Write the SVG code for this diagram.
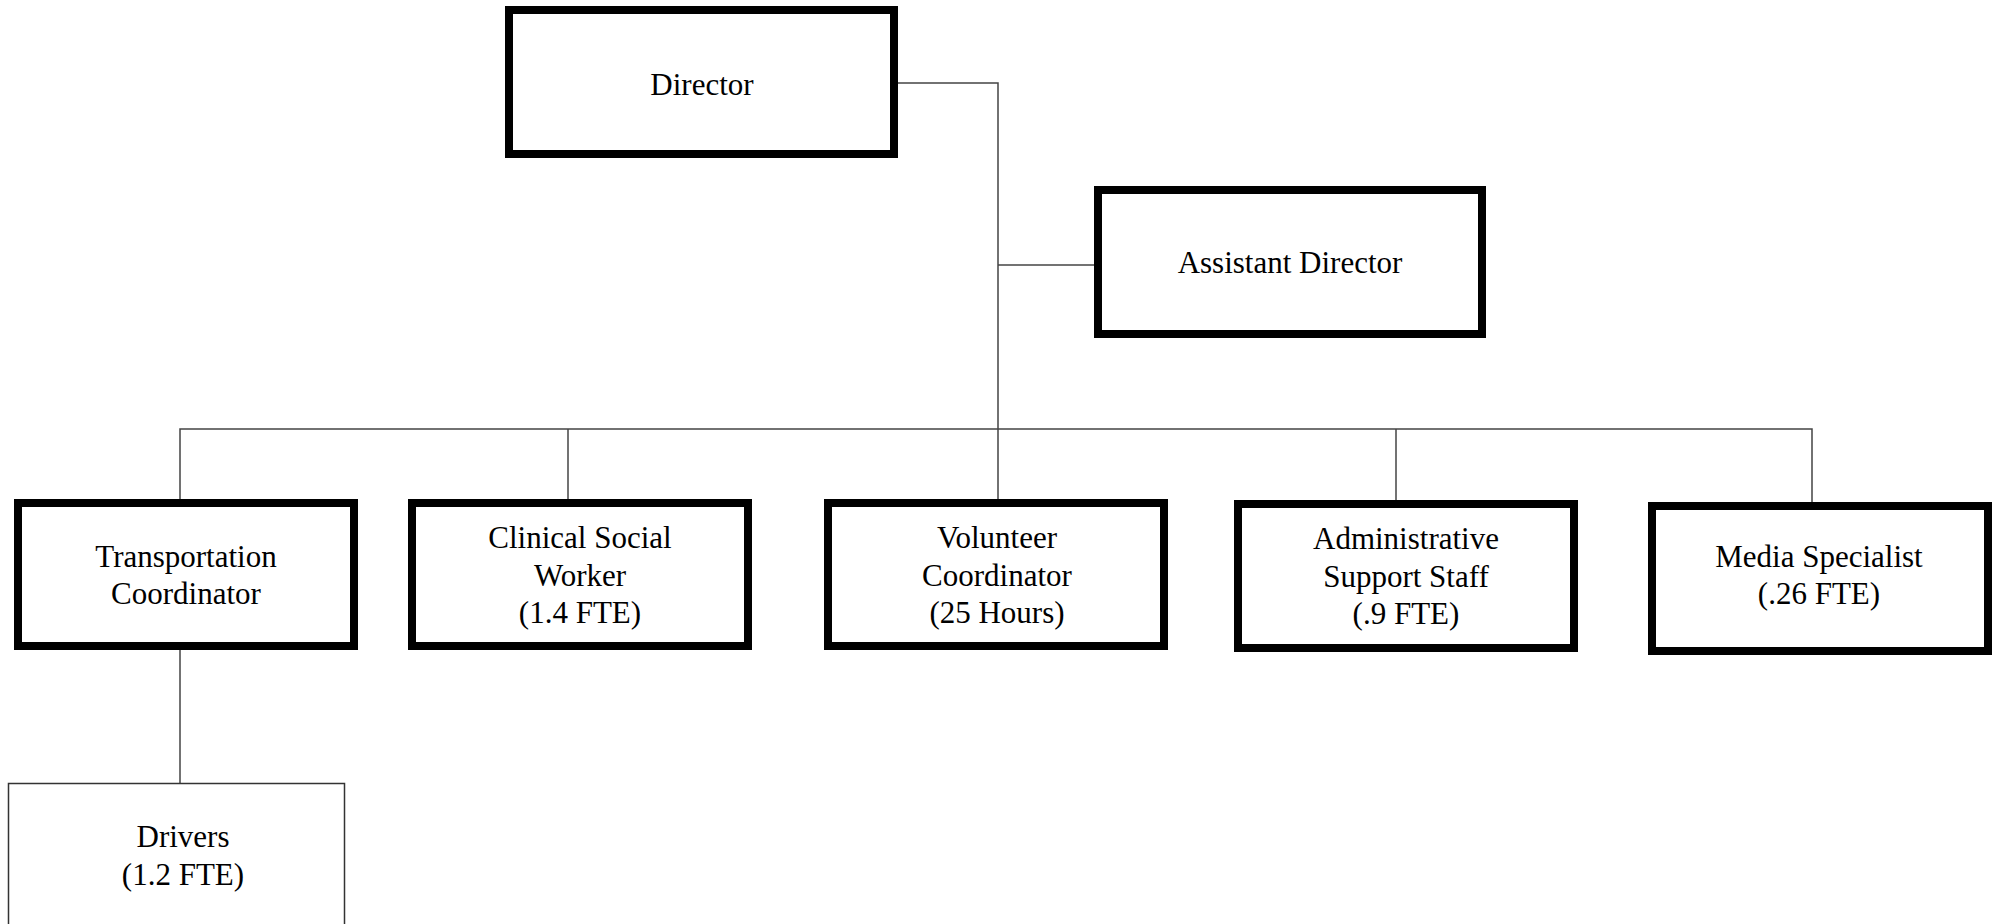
<svg xmlns="http://www.w3.org/2000/svg" width="1999" height="924" viewBox="0 0 1999 924">
  <style>
    .box { fill: #ffffff; stroke: #000000; stroke-width: 8; }
    .thin { fill: #ffffff; stroke: #333333; stroke-width: 1.5; }
    .link { fill: none; stroke: #444444; stroke-width: 1.5; }
    text { font-family: "Liberation Serif", "Times New Roman", serif; font-size: 31px; fill: #000000; text-anchor: middle; }
  </style>
  <rect width="1999" height="924" fill="#ffffff"/>

  <g id="connectors">
    <path class="link" d="M898 83 H998 V499"/>
    <path class="link" d="M998 265 H1094"/>
    <path class="link" d="M180 499 V429 H1812 V502"/>
    <path class="link" d="M568 429 V499"/>
    <path class="link" d="M1396 429 V500"/>
    <path class="link" d="M180 650 V783"/>
  </g>

  <g id="director">
    <rect class="box" x="509" y="10" width="385" height="144"/>
    <text x="702" y="95">Director</text>
  </g>

  <g id="assistant-director">
    <rect class="box" x="1098" y="190" width="384" height="144"/>
    <text x="1290" y="273">Assistant Director</text>
  </g>

  <g id="transportation-coordinator">
    <rect class="box" x="18" y="503" width="336" height="143"/>
    <text x="186" y="567">Transportation</text>
    <text x="186" y="604">Coordinator</text>
  </g>

  <g id="clinical-social-worker">
    <rect class="box" x="412" y="503" width="336" height="143"/>
    <text x="580" y="548">Clinical Social</text>
    <text x="580" y="586">Worker</text>
    <text x="580" y="623">(1.4 FTE)</text>
  </g>

  <g id="volunteer-coordinator">
    <rect class="box" x="828" y="503" width="336" height="143"/>
    <text x="997" y="548">Volunteer</text>
    <text x="997" y="586">Coordinator</text>
    <text x="997" y="623">(25 Hours)</text>
  </g>

  <g id="administrative-support-staff">
    <rect class="box" x="1238" y="504" width="336" height="144"/>
    <text x="1406" y="549">Administrative</text>
    <text x="1406" y="587">Support Staff</text>
    <text x="1406" y="624">(.9 FTE)</text>
  </g>

  <g id="media-specialist">
    <rect class="box" x="1652" y="506" width="336" height="145"/>
    <text x="1819" y="567">Media Specialist</text>
    <text x="1819" y="604">(.26 FTE)</text>
  </g>

  <g id="drivers">
    <rect class="thin" x="8.5" y="783.5" width="336" height="200"/>
    <text x="183" y="847">Drivers</text>
    <text x="183" y="885">(1.2 FTE)</text>
  </g>
</svg>
